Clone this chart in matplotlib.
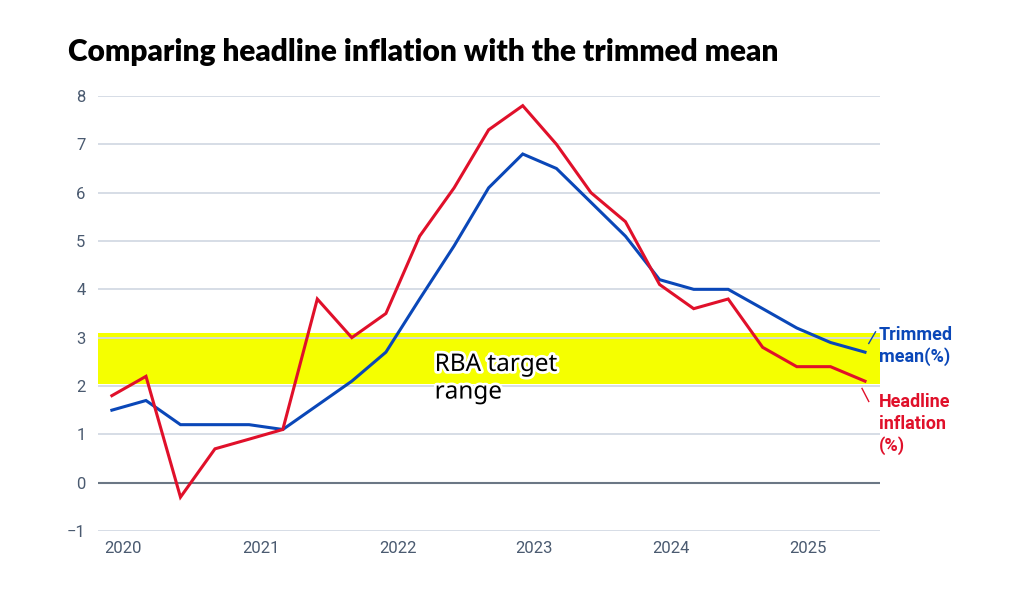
import datetime as dt

import matplotlib
matplotlib.use("Agg")
import matplotlib.pyplot as plt
import matplotlib.dates as mdates
import matplotlib.patheffects as pe

# Quarterly values, Dec 2019 .. Jun 2025
quartale = [
    "2019-12", "2020-03", "2020-06", "2020-09", "2020-12",
    "2021-03", "2021-06", "2021-09", "2021-12",
    "2022-03", "2022-06", "2022-09", "2022-12",
    "2023-03", "2023-06", "2023-09", "2023-12",
    "2024-03", "2024-06", "2024-09", "2024-12",
    "2025-03", "2025-06",
]
headline = [1.8, 2.2, -0.3, 0.7, 0.9, 1.1, 3.8, 3.0, 3.5, 5.1, 6.1, 7.3, 7.8,
            7.0, 6.0, 5.4, 4.1, 3.6, 3.8, 2.8, 2.4, 2.4, 2.1]
trimmed = [1.5, 1.7, 1.2, 1.2, 1.2, 1.1, 1.6, 2.1, 2.7, 3.8, 4.9, 6.1, 6.8,
           6.5, 5.8, 5.1, 4.2, 4.0, 4.0, 3.6, 3.2, 2.9, 2.7]
zielband = (2.05, 3.1)
jahre = [2020, 2021, 2022, 2023, 2024, 2025]

datum = [dt.datetime.strptime(q + "-01", "%Y-%m-%d") for q in quartale]

ROT = "#e0102a"
BLAU = "#0a47b8"
GRID = "#d3dae4"
TEXT = "#4a5a70"

fig = plt.figure(figsize=(10.24, 5.95), dpi=100)
ax = fig.add_axes([98 / 1024, 1 - 531 / 595, (880 - 98) / 1024, (531 - 96) / 595])

ax.axhspan(zielband[0], zielband[1], color="#f5ff00", zorder=0, lw=0)
for y in range(-1, 9):
    if y == 0:
        ax.axhline(0, color="#6b7785", lw=1.5, zorder=1)
    else:
        ax.axhline(y, color=GRID, lw=1.3, zorder=1)

ax.plot(datum, trimmed, color=BLAU, lw=2.2, zorder=3, solid_joinstyle="miter")
ax.plot(datum, headline, color=ROT, lw=2.2, zorder=4, solid_joinstyle="miter")

ax.set_xlim(dt.datetime(2019, 10, 25), dt.datetime(2025, 7, 11))
ax.set_ylim(-1, 8)
ax.set_yticks(range(-1, 9))
ax.set_yticklabels(["\u22121"] + [str(v) for v in range(0, 9)])
ax.set_xticks([dt.datetime(j, 1, 1) for j in jahre])
ax.xaxis.set_major_formatter(mdates.DateFormatter("%Y"))
ax.tick_params(length=0, labelsize=12, labelcolor=TEXT)
ax.tick_params(axis="y", pad=9)
ax.tick_params(axis="x", pad=7)
for s in ax.spines.values():
    s.set_visible(False)
for lab in ax.get_xticklabels() + ax.get_yticklabels():
    lab.set_family("Roboto")

fig.text(68 / 1024, 1 - 52 / 595, "Comparing headline inflation with the trimmed mean",
         fontsize=21.5, fontweight="heavy", family="Lato", color="#000000", va="center")

ax.text(dt.datetime(2022, 4, 10), 2.15, "RBA target\nrange", fontsize=17.5, color="#000000",
        family="Noto Sans", va="center", ha="left", linespacing=1.2, zorder=5,
        path_effects=[pe.withStroke(linewidth=4, foreground="white")])

# Endbeschriftungen mit kurzen Fuehrungslinien
ax.plot([datum[-1] + dt.timedelta(days=10), datum[-1] + dt.timedelta(days=28)],
        [2.88, 3.12], color=BLAU, lw=1, clip_on=False)
ax.plot([datum[-1] - dt.timedelta(days=8), datum[-1] + dt.timedelta(days=10)],
        [1.95, 1.68], color=ROT, lw=1, clip_on=False)
fig.text(879 / 1024, 1 - 346 / 595, "Trimmed\nmean(%)", fontsize=13, color=BLAU,
         fontweight="bold", family="Roboto", va="center", linespacing=1.25)
fig.text(879 / 1024, 1 - 424 / 595, "Headline\ninflation\n(%)", fontsize=13, color=ROT,
         fontweight="bold", family="Roboto", va="center", linespacing=1.25)

fig.savefig("out.png", dpi=100, facecolor="white")
